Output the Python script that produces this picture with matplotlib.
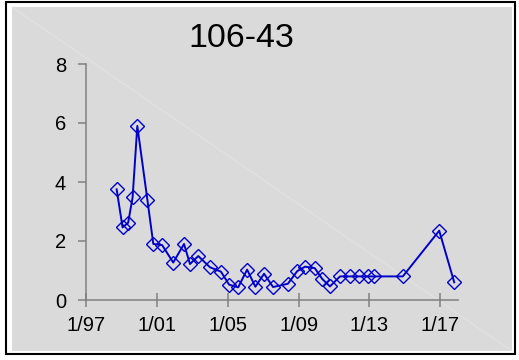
import numpy as np
import pandas as pd
import matplotlib
matplotlib.use("Agg")
import matplotlib.pyplot as plt
from matplotlib.patches import Rectangle
from matplotlib.lines import Line2D


# =========================================================
# DATOS
# =========================================================

TITULO = "106-43"

fechas = [
    "1998-09-25", "1999-01-25", "1999-05-20", "1999-08-20", "1999-11-25",
    "2000-06-20", "2000-10-20", "2001-04-20", "2001-12-05", "2002-07-15",
    "2002-11-15", "2003-05-05", "2004-01-01", "2004-08-15", "2005-01-30",
    "2005-08-05", "2006-02-05", "2006-07-25", "2007-01-20", "2007-07-25",
    "2008-05-25", "2008-12-05", "2009-05-15", "2009-12-01", "2010-05-05",
    "2010-10-10", "2011-05-05", "2011-12-01", "2012-06-01", "2012-12-01",
    "2013-04-15", "2014-11-20", "2016-12-10", "2017-10-15",
]

valores = [
    3.75, 2.46, 2.62, 3.48, 5.90,
    3.39, 1.90, 1.86, 1.27, 1.90,
    1.22, 1.49, 1.11, 0.96, 0.52,
    0.43, 1.03, 0.45, 0.89, 0.44,
    0.55, 0.98, 1.13, 1.08, 0.71,
    0.46, 0.80, 0.80, 0.80, 0.80,
    0.80, 0.80, 2.35, 0.60,
]

ticks_x = ["1997-01-01", "2001-01-01", "2005-01-01",
           "2009-01-01", "2013-01-01", "2017-01-01"]
etiquetas_x = ["1/97", "1/01", "1/05", "1/09", "1/13", "1/17"]

ticks_y = [0, 2, 4, 6, 8]


# =========================================================
# FIGURA
# =========================================================

plt.rcParams["font.family"] = ["Liberation Sans", "DejaVu Sans"]

W, H = 519, 360
fig = plt.figure(figsize=(W / 100, H / 100), dpi=100)
fig.patch.set_facecolor("white")

# marco negro exterior
fig.patches.append(Rectangle(
    (6 / W, 1 - 354 / H), 509 / W, 352.5 / H,
    transform=fig.transFigure, facecolor="white",
    edgecolor="black", linewidth=1.5, zorder=-3
))

# area gris
fig.patches.append(Rectangle(
    (12 / W, 1 - 351 / H), 500 / W, 344 / H,
    transform=fig.transFigure, facecolor="#dadada",
    edgecolor="none", zorder=-2
))

# diagonal tenue
fig.lines.append(Line2D(
    [12 / W, 512 / W], [1 - 7 / H, 1 - 351 / H],
    transform=fig.transFigure, color="#e4e4e4",
    linewidth=0.6, zorder=-1
))

ax = fig.add_axes([86 / W, 1 - 300 / H, (458 - 86) / W, (300 - 64) / H])
ax.set_facecolor("none")

x = pd.to_datetime(fechas)

ax.plot(
    x, valores,
    color="#0000c8",
    linewidth=1.4,
    marker="D",
    markersize=7.5,
    markerfacecolor="none",
    markeredgecolor="#0000c8",
    markeredgewidth=1.0,
    clip_on=False
)

ax.set_xlim(pd.Timestamp("1997-01-01"), pd.Timestamp("2018-01-01"))
ax.set_ylim(0, 8)

ax.set_xticks(pd.to_datetime(ticks_x))
ax.set_xticklabels(etiquetas_x)
ax.set_yticks(ticks_y)
ax.set_yticklabels([str(v) for v in ticks_y])

for lado in ["top", "right"]:
    ax.spines[lado].set_visible(False)

for lado in ["left", "bottom"]:
    ax.spines[lado].set_color("#808080")
    ax.spines[lado].set_linewidth(1.1)

ax.tick_params(axis="x", direction="inout", length=9.5, width=1.1,
               color="#808080", labelsize=14.5, pad=7)
ax.tick_params(axis="y", direction="out", length=5.8, width=1.1,
               color="#808080", labelsize=14.5, pad=8.5)

fig.text(241 / W, 1 - 47 / H, TITULO, ha="center", va="baseline",
         fontsize=24.5, color="black")

fig.savefig("out.png", dpi=100)
